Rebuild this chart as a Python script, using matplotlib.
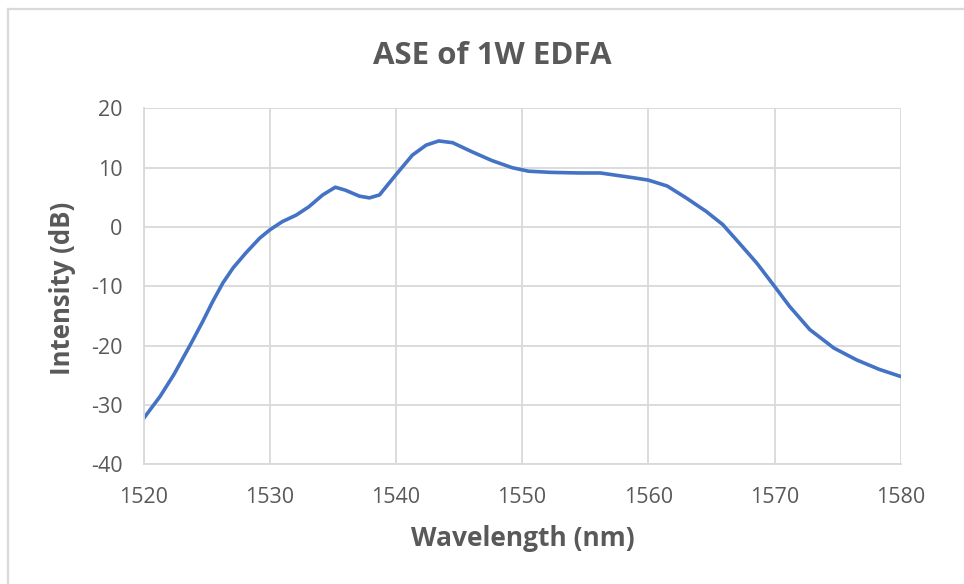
import matplotlib
matplotlib.use("Agg")
import matplotlib.pyplot as plt
from matplotlib.lines import Line2D

wavelength_nm = [1520.0, 1521.3, 1522.4, 1523.7, 1524.7, 1525.5, 1526.3, 1527.1,
                 1528.1, 1529.2, 1530.0, 1531.0, 1532.1, 1533.1, 1534.2, 1535.2,
                 1536.0, 1537.1, 1537.9, 1538.7, 1540.0, 1541.3, 1542.4, 1543.4,
                 1544.5, 1546.0, 1547.6, 1549.2, 1550.5, 1552.3, 1554.5, 1556.2,
                 1558.8, 1560.0, 1561.5, 1563.0, 1564.6, 1565.9, 1567.2, 1568.6,
                 1570.0, 1571.2, 1572.8, 1574.7, 1576.5, 1578.3, 1580.0]
intensity_db = [-32.3, -28.6, -24.9, -19.9, -15.9, -12.5, -9.4, -6.9,
                -4.4, -1.9, -0.5, 0.9, 2.0, 3.4, 5.4, 6.7,
                6.2, 5.2, 4.9, 5.4, 8.8, 12.1, 13.8, 14.5,
                14.2, 12.7, 11.2, 10.0, 9.4, 9.2, 9.1, 9.1,
                8.3, 7.9, 6.9, 4.9, 2.6, 0.4, -2.7, -6.1,
                -10.0, -13.4, -17.3, -20.4, -22.4, -24.0, -25.2]
x_ticks = [1520, 1530, 1540, 1550, 1560, 1570, 1580]
y_ticks = [-40, -30, -20, -10, 0, 10, 20]

title = "ASE of 1W EDFA"
x_label = "Wavelength (nm)"
y_label = "Intensity (dB)"

FONT = "Open Sans"
TXT = "#595959"
GRID = "#d9d9d9"

W, H = 964, 584
fig = plt.figure(figsize=(W / 100, H / 100), dpi=100)
fig.patch.set_facecolor("white")

# chart border (top and left visible)
fig.add_artist(Line2D([8 / W, 8 / W], [0, 1 - 8.5 / H], transform=fig.transFigure,
                      color=GRID, lw=1.6))
fig.add_artist(Line2D([8 / W, 1], [1 - 8.5 / H, 1 - 8.5 / H], transform=fig.transFigure,
                      color=GRID, lw=1.6))

left, right = 143.5 / W, 900.7 / W
top, bottom = 1 - 108.3 / H, 1 - 464.3 / H
ax = fig.add_axes([left, bottom, right - left, top - bottom])

ax.plot(wavelength_nm, intensity_db, color="#4472c4", lw=2.6,
        solid_capstyle="round", solid_joinstyle="round")

ax.set_xlim(1520, 1580)
ax.set_ylim(-40, 20)
ax.set_xticks(x_ticks)
ax.set_yticks(y_ticks)
ax.set_xticklabels([str(v) for v in x_ticks])
ax.set_yticklabels([str(v) for v in y_ticks])
ax.grid(True, color=GRID, lw=1.3)
ax.set_axisbelow(True)
for s in ax.spines.values():
    s.set_color(GRID)
    s.set_linewidth(1.3)
ax.spines["top"].set_visible(False)
ax.spines["right"].set_visible(False)
ax.tick_params(axis="both", length=0, labelsize=15.5, labelcolor=TXT)
ax.tick_params(axis="x", pad=16)
ax.tick_params(axis="y", pad=15)
for lab in ax.get_xticklabels() + ax.get_yticklabels():
    lab.set_fontfamily(FONT)

ax.set_xlabel(x_label, fontsize=19, fontweight="bold", color=TXT, fontfamily=FONT)
ax.set_ylabel(y_label, fontsize=18.5, fontweight="bold", color=TXT, fontfamily=FONT)
ax.xaxis.set_label_coords((523 - 143.5) / (900.7 - 143.5), -(539 - 464.3) / (464.3 - 108.3))
ax.yaxis.set_label_coords(-(143.5 - 63) / (900.7 - 143.5), (464.3 - 288) / (464.3 - 108.3))
ax.xaxis.label.set_va("center")
ax.yaxis.label.set_va("center")

fig.text(492 / W, 1 - 56 / H, title, ha="center", va="center", fontsize=22.5,
         fontweight="bold", color=TXT, fontfamily=FONT)

fig.savefig("out.png", dpi=100, facecolor="white")
